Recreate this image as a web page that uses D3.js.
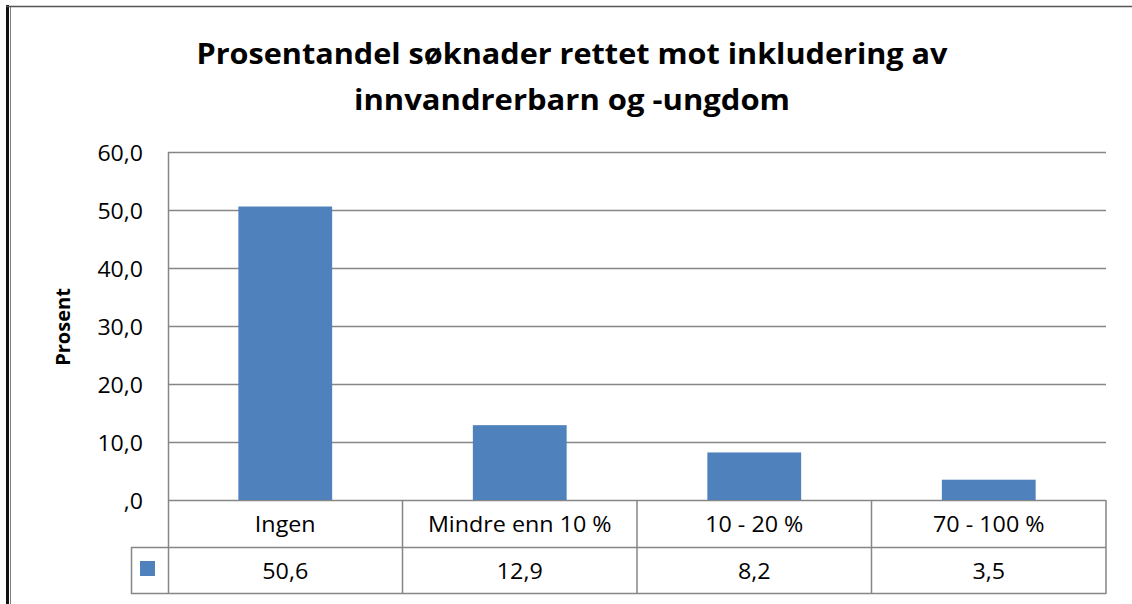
<!DOCTYPE html>
<html>
<head>
<meta charset="utf-8">
<script src="https://cdn.jsdelivr.net/npm/d3@7"></script>
<style>
  html, body { margin: 0; background: #fff; overflow: hidden; }
  svg { display: block; font-family: 'Open Sans', 'Noto Sans', sans-serif; }
</style>
</head>
<body>
<svg id="chart" width="1132" height="604"></svg>
<script>
const categories = ['Ingen', 'Mindre enn 10 %', '10 - 20 %', '70 - 100 %'];
const values = [50.6, 12.9, 8.2, 3.5];
const yTicks = [0, 10, 20, 30, 40, 50, 60];
const titleLines = ['Prosentandel søknader rettet mot inkludering av', 'innvandrerbarn og -ungdom'];
const yLabel = 'Prosent';

const svg = d3.select('#chart');
const plotLeft = 168, plotRight = 1106, plotTop = 152, plotBottom = 500;
const rowH = 47, legendX = 131;
const barColor = '#4F81BD', lineColor = '#868686';
const fmt = v => (v === 0 ? ',0' : d3.format('.1f')(v).replace('.', ','));

// outer frame
svg.append('line')
  .attr('x1', 10.5).attr('x2', 10.5).attr('y1', 6).attr('y2', 604)
  .attr('stroke', '#7f7f7f').attr('stroke-width', 1);
svg.append('line')
  .attr('x1', 7.5).attr('x2', 7.5).attr('y1', 5).attr('y2', 604)
  .attr('stroke', '#111').attr('stroke-width', 3);
svg.append('line')
  .attr('x1', 6).attr('x2', 1132).attr('y1', 6.5).attr('y2', 6.5)
  .attr('stroke', '#555').attr('stroke-width', 1.5);

// title
svg.append('g').selectAll('text')
  .data(titleLines)
  .join('text')
  .attr('x', 572)
  .attr('y', (d, i) => 64 + i * 46)
  .attr('text-anchor', 'middle')
  .attr('font-weight', 'bold')
  .attr('font-size', '29px')
  .attr('fill', '#000')
  .attr('textLength', (d, i) => i === 0 ? 751 : 436)
  .attr('lengthAdjust', 'spacingAndGlyphs')
  .text(d => d);

const x = d3.scaleBand().domain(categories).range([plotLeft, plotRight]).paddingInner(0.6).paddingOuter(0.3);
const y = d3.scaleLinear().domain([0, 60]).range([plotBottom, plotTop]);

// gridlines
svg.append('g').selectAll('line')
  .data(yTicks)
  .join('line')
  .attr('x1', plotLeft).attr('x2', plotRight)
  .attr('y1', d => Math.round(y(d)) + 0.5).attr('y2', d => Math.round(y(d)) + 0.5)
  .attr('stroke', lineColor).attr('stroke-width', 1.5);

svg.append('line')
  .attr('x1', plotLeft + 0.5).attr('x2', plotLeft + 0.5)
  .attr('y1', plotTop).attr('y2', plotBottom + 2 * rowH)
  .attr('stroke', lineColor).attr('stroke-width', 1.5);

// y tick labels (slightly stretched to mimic Calibri proportions)
svg.append('g').selectAll('text')
  .data(yTicks)
  .join('text')
  .attr('transform', d => `translate(143,${y(d) + 8.5}) scale(1.1,1)`)
  .attr('text-anchor', 'end')
  .attr('font-size', '21px')
  .attr('fill', '#000')
  .text(fmt);

svg.append('text')
  .attr('transform', 'translate(70,327) rotate(-90)')
  .attr('text-anchor', 'middle')
  .attr('font-weight', 'bold')
  .attr('font-size', '20px')
  .attr('fill', '#000')
  .text(yLabel);

// bars
svg.append('g').selectAll('rect')
  .data(values)
  .join('rect')
  .attr('x', (d, i) => x(categories[i]))
  .attr('width', x.bandwidth())
  .attr('y', d => y(d))
  .attr('height', d => y(0) - y(d))
  .attr('fill', barColor);

// data table
const colW = (plotRight - plotLeft) / categories.length;
const table = svg.append('g').attr('stroke', lineColor).attr('stroke-width', 1.5);
table.append('line').attr('x1', plotLeft).attr('x2', plotRight).attr('y1', plotBottom + rowH + 0.5).attr('y2', plotBottom + rowH + 0.5);
table.append('line').attr('x1', legendX).attr('x2', plotLeft).attr('y1', plotBottom + rowH + 0.5).attr('y2', plotBottom + rowH + 0.5);
table.append('line').attr('x1', legendX).attr('x2', plotRight).attr('y1', plotBottom + 2 * rowH - 0.5).attr('y2', plotBottom + 2 * rowH - 0.5);
table.append('line').attr('x1', legendX + 0.5).attr('x2', legendX + 0.5).attr('y1', plotBottom + rowH).attr('y2', plotBottom + 2 * rowH);
table.selectAll('.col')
  .data(d3.range(1, categories.length + 1))
  .join('line')
  .attr('class', 'col')
  .attr('x1', i => plotLeft + i * colW).attr('x2', i => plotLeft + i * colW)
  .attr('y1', plotBottom).attr('y2', plotBottom + 2 * rowH);

svg.append('g').selectAll('text')
  .data(categories)
  .join('text')
  .attr('transform', d => `translate(${x(d) + x.bandwidth() / 2},532) scale(1.06,1)`)
  .attr('text-anchor', 'middle')
  .attr('font-size', '22px')
  .attr('fill', '#000')
  .text(d => d);

svg.append('g').selectAll('text')
  .data(values)
  .join('text')
  .attr('transform', (d, i) => `translate(${x(categories[i]) + x.bandwidth() / 2},579) scale(1.06,1)`)
  .attr('text-anchor', 'middle')
  .attr('font-size', '22px')
  .attr('fill', '#000')
  .text(d => fmt(d));

svg.append('rect')
  .attr('x', 140).attr('y', 561)
  .attr('width', 15).attr('height', 15)
  .attr('fill', barColor);
</script>
</body>
</html>
